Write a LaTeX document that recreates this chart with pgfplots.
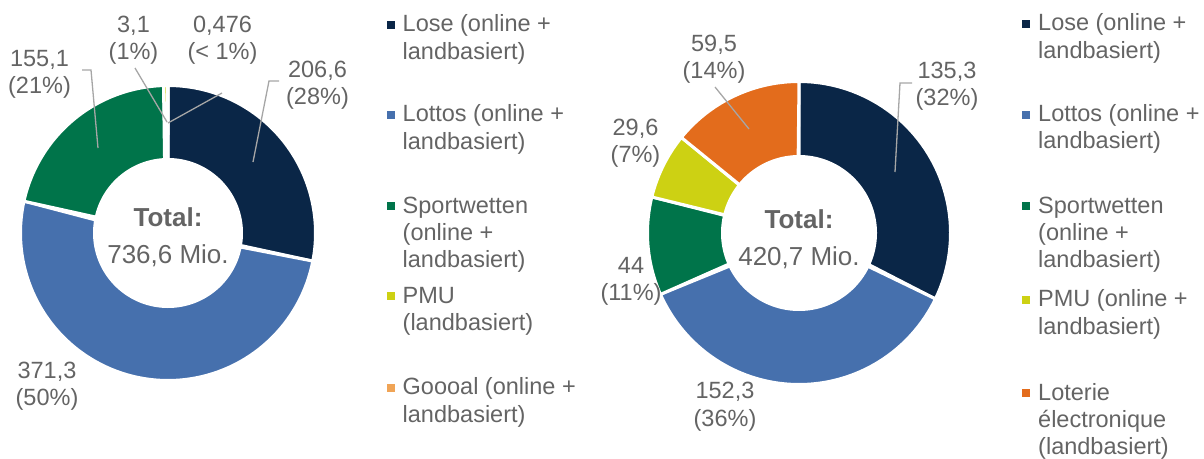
\documentclass[border=0pt]{standalone}
\usepackage{fontspec}
\setmainfont{Liberation Sans}
\usepackage{pgfplots}
\pgfplotsset{compat=1.18}

\definecolor{lose}{HTML}{0A2647}
\definecolor{lottos}{HTML}{4670AD}
\definecolor{sport}{HTML}{00744A}
\definecolor{pmu}{HTML}{CDD113}
\definecolor{goooal}{HTML}{F0A456}
\definecolor{loterie}{HTML}{E36C1C}
\definecolor{txt}{HTML}{646464}
\definecolor{leader}{HTML}{A6A6A6}

% running sum of the values already drawn in the current donut
\newcommand{\cum}{0}
% #1 cx, #2 cy, #3 outer r, #4 inner r, #5 value, #6 total, #7 colour
\newcommand{\slice}[7]{%
  \pgfmathsetmacro\aS{90-360*(\cum/#6)}%
  \pgfmathsetmacro\aE{90-360*((\cum+#5)/#6)}%
  \pgfmathsetmacro\newcum{\cum+#5}%
  \xdef\cum{\newcum}%
  \edef\doslice{\noexpand\addplot[fill=#7, draw=white, line width=3pt,
      domain=0:2, samples=161, variable=\noexpand\t]
    ({#1+(\noexpand\t<1.0001 ? #3 : #4)*cos(\noexpand\t<1.0001 ? (\aS)+((\aE)-(\aS))*\noexpand\t : (\aE)-((\aE)-(\aS))*(\noexpand\t-1))},
     {#2-(\noexpand\t<1.0001 ? #3 : #4)*sin(\noexpand\t<1.0001 ? (\aS)+((\aE)-(\aS))*\noexpand\t : (\aE)-((\aE)-(\aS))*(\noexpand\t-1))}) -- cycle;}%
  \doslice
}

\tikzset{
  lbl/.style={font=\fontsize{23.5}{27}\selectfont, text=txt, inner sep=0pt},
  big/.style={font=\fontsize{26}{30}\selectfont, text=txt, inner sep=0pt},
  ldr/.style={leader, line width=1.3pt},
}

\begin{document}
\begin{tikzpicture}
\begin{axis}[
  width=1204pt, height=458pt, scale only axis,
  xmin=0, xmax=1204, ymin=0, ymax=458, y dir=reverse,
  hide axis, clip=false,
]
% left donut: total 736,6
\renewcommand{\cum}{0}
\slice{168}{233}{147.5}{73.5}{206.6}{736.576}{lose}
\slice{168}{233}{147.5}{73.5}{371.3}{736.576}{lottos}
\slice{168}{233}{147.5}{73.5}{155.1}{736.576}{sport}
\slice{168}{233}{147.5}{73.5}{3.1}{736.576}{pmu}
\slice{168}{233}{147.5}{73.5}{0.476}{736.576}{goooal}

% right donut: total 420,7
\renewcommand{\cum}{0}
\slice{799}{233}{151.5}{76.5}{135.3}{420.7}{lose}
\slice{799}{233}{151.5}{76.5}{152.3}{420.7}{lottos}
\slice{799}{233}{151.5}{76.5}{44}{420.7}{sport}
\slice{799}{233}{151.5}{76.5}{29.6}{420.7}{pmu}
\slice{799}{233}{151.5}{76.5}{59.5}{420.7}{loterie}

% leader lines
\addplot[ldr] coordinates {(279,81) (269,81) (253,162)};
\addplot[ldr] coordinates {(82,70) (91,70) (98,148)};
\addplot[ldr] coordinates {(135,68) (167,122)};
\addplot[ldr] coordinates {(222,93) (168,123)};
\addplot[ldr] coordinates {(912,83) (900,83) (895,172)};
\addplot[ldr] coordinates {(715,87) (749,129)};

% data labels, left
\node[lbl, anchor=base] at (axis cs:317.5,77) {206,6};
\node[lbl, anchor=base] at (axis cs:317.5,104) {(28\%)};
\node[lbl, anchor=base] at (axis cs:39.5,66.7) {155,1};
\node[lbl, anchor=base] at (axis cs:39.5,93.5) {(21\%)};
\node[lbl, anchor=base] at (axis cs:133.5,32.3) {3,1};
\node[lbl, anchor=base] at (axis cs:133.5,59.5) {(1\%)};
\node[lbl, anchor=base] at (axis cs:222.5,32.3) {0,476};
\node[lbl, anchor=base] at (axis cs:222.5,59.5) {(< 1\%)};
\node[lbl, anchor=base] at (axis cs:47,378) {371,3};
\node[lbl, anchor=base] at (axis cs:47,405) {(50\%)};
\node[big, anchor=base] at (axis cs:168,226) {\bfseries Total:};
\node[big, anchor=base] at (axis cs:168,263) {736,6 Mio.};

% data labels, right
\node[lbl, anchor=base] at (axis cs:947,78) {135,3};
\node[lbl, anchor=base] at (axis cs:947,105) {(32\%)};
\node[lbl, anchor=base] at (axis cs:714,51) {59,5};
\node[lbl, anchor=base] at (axis cs:714,78) {(14\%)};
\node[lbl, anchor=base] at (axis cs:635.5,135) {29,6};
\node[lbl, anchor=base] at (axis cs:635.5,162) {(7\%)};
\node[lbl, anchor=base] at (axis cs:631,273) {44};
\node[lbl, anchor=base] at (axis cs:631,300) {(11\%)};
\node[lbl, anchor=base] at (axis cs:725,398) {152,3};
\node[lbl, anchor=base] at (axis cs:725,426) {(36\%)};
\node[big, anchor=base] at (axis cs:799,228) {\bfseries Total:};
\node[big, anchor=base] at (axis cs:799,265) {420,7 Mio.};

% legend, left
\addplot[only marks, mark=square*, mark size=3.5pt, color=lose] coordinates {(390.5,24.2)};
\addplot[only marks, mark=square*, mark size=3.5pt, color=lottos] coordinates {(390.5,114.2)};
\addplot[only marks, mark=square*, mark size=3.5pt, color=sport] coordinates {(390.5,205.8)};
\addplot[only marks, mark=square*, mark size=3.5pt, color=pmu] coordinates {(390.5,295.5)};
\addplot[only marks, mark=square*, mark size=3.5pt, color=goooal] coordinates {(390.5,387.2)};
\node[lbl, anchor=base west] at (axis cs:402.5,31.7) {Lose (online +};
\node[lbl, anchor=base west] at (axis cs:402.5,59.5) {landbasiert)};
\node[lbl, anchor=base west] at (axis cs:402.5,121.7) {Lottos (online +};
\node[lbl, anchor=base west] at (axis cs:402.5,149.3) {landbasiert)};
\node[lbl, anchor=base west] at (axis cs:402.5,213.3) {Sportwetten};
\node[lbl, anchor=base west] at (axis cs:402.5,240.5) {(online +};
\node[lbl, anchor=base west] at (axis cs:402.5,267.5) {landbasiert)};
\node[lbl, anchor=base west] at (axis cs:402.5,303) {PMU};
\node[lbl, anchor=base west] at (axis cs:402.5,330.5) {(landbasiert)};
\node[lbl, anchor=base west] at (axis cs:402.5,394.7) {Goooal (online +};
\node[lbl, anchor=base west] at (axis cs:402.5,422) {landbasiert)};

% legend, right
\addplot[only marks, mark=square*, mark size=3.5pt, color=lose] coordinates {(1026,23.2)};
\addplot[only marks, mark=square*, mark size=3.5pt, color=lottos] coordinates {(1026,114.2)};
\addplot[only marks, mark=square*, mark size=3.5pt, color=sport] coordinates {(1026,205.8)};
\addplot[only marks, mark=square*, mark size=3.5pt, color=pmu] coordinates {(1026,299.2)};
\addplot[only marks, mark=square*, mark size=3.5pt, color=loterie] coordinates {(1026,392.5)};
\node[lbl, anchor=base west] at (axis cs:1038,30.7) {Lose (online +};
\node[lbl, anchor=base west] at (axis cs:1038,58.3) {landbasiert)};
\node[lbl, anchor=base west] at (axis cs:1038,121.7) {Lottos (online +};
\node[lbl, anchor=base west] at (axis cs:1038,148.5) {landbasiert)};
\node[lbl, anchor=base west] at (axis cs:1038,213.3) {Sportwetten};
\node[lbl, anchor=base west] at (axis cs:1038,240.3) {(online +};
\node[lbl, anchor=base west] at (axis cs:1038,267.3) {landbasiert)};
\node[lbl, anchor=base west] at (axis cs:1038,306.7) {PMU (online +};
\node[lbl, anchor=base west] at (axis cs:1038,334) {landbasiert)};
\node[lbl, anchor=base west] at (axis cs:1038,400) {Loterie};
\node[lbl, anchor=base west] at (axis cs:1038,427) {électronique};
\node[lbl, anchor=base west] at (axis cs:1038,454) {(landbasiert)};

\coordinate (bbA) at (rel axis cs:0,0);
\coordinate (bbB) at (rel axis cs:1,1);
\end{axis}
\pgfresetboundingbox
\path[use as bounding box] (bbA) rectangle (bbB);
\end{tikzpicture}
\end{document}
